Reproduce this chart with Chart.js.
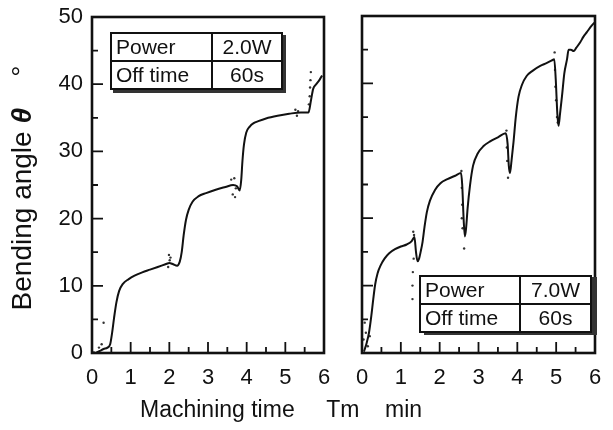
<!DOCTYPE html>
<html>
<head>
<meta charset="utf-8">
<script src="https://cdn.jsdelivr.net/npm/chart.js@4/dist/chart.umd.min.js"></script>
<style>
  body { margin: 0; background: #fff; }
  #wrap { position: relative; width: 613px; height: 430px; background: #fff; font-family: "Liberation Sans", Arial, sans-serif; color: #111; }
  canvas { position: absolute; top: 0; }
  .tbl { position: absolute; border-collapse: collapse; background: #fff; font-size: 21px; box-shadow: 3px 3px 0 #333; }
  .tbl td { border: 2px solid #111; height: 26px; padding: 0 4px; }
  .tbl td.v { text-align: center; }
  #ytitle { position: absolute; left: -128px; top: 172px; width: 300px; height: 32px; line-height: 32px;
            text-align: center; font-size: 28px; transform: rotate(-90deg); white-space: pre; }
  #xtitle { position: absolute; left: 140px; top: 396px; font-size: 23px; white-space: pre; }
</style>
</head>
<body>
<div id="wrap">
  <canvas id="left" width="335" height="400" style="left:0"></canvas>
  <canvas id="right" width="273" height="400" style="left:340px"></canvas>

  <table class="tbl" style="left:110px; top:32px; width:173px">
    <tr><td style="width:91px">Power</td><td class="v">2.0W</td></tr>
    <tr><td>Off time</td><td class="v">60s</td></tr>
  </table>
  <table class="tbl" style="left:419px; top:275px; width:173px; box-shadow: 5px 2px 0 #333">
    <tr><td style="width:90px">Power</td><td class="v">7.0W</td></tr>
    <tr><td>Off time</td><td class="v">60s</td></tr>
  </table>

  <div id="ytitle">Bending angle <b><i>θ</i></b>    °</div>
  <div id="xtitle">Machining time     Tm    min</div>
</div>

<script>
// 2.0W curve (time in min, angle in deg)
var t2W = [0.10, 0.20, 0.30, 0.40, 0.47, 0.52, 0.57, 0.63, 0.70, 0.80, 0.95, 1.10, 1.30, 1.50, 1.70, 1.90, 2.00, 2.10, 2.20,
           2.27, 2.32, 2.37, 2.43, 2.50, 2.60, 2.75, 2.95, 3.20, 3.45, 3.65, 3.75, 3.82, 3.86, 3.89, 3.93, 3.99, 4.08, 4.18,
           4.30, 4.50, 4.80, 5.10, 5.40, 5.60, 5.66, 5.72, 5.80, 5.88, 5.95];
var a2W = [0.0, 0.3, 0.6, 0.8, 1.3, 3.0, 5.2, 7.5, 9.2, 10.3, 11.0, 11.5, 12.0, 12.4, 12.8, 13.2, 13.4, 13.2, 13.0,
           13.6, 15.0, 17.5, 19.8, 21.3, 22.5, 23.3, 23.8, 24.3, 24.7, 25.0, 24.8, 24.2, 25.8, 28.5, 31.0, 32.8, 33.7, 34.2,
           34.5, 34.9, 35.3, 35.6, 35.8, 35.8, 37.5, 39.3, 40.0, 40.6, 41.3];
// scattered points around the 2.0W curve
var n2Wt = [0.05, 0.18, 0.25, 0.30, 1.97, 1.99, 2.01, 2.03, 3.60, 3.64, 3.68, 3.70, 3.72, 5.26, 5.30, 5.33, 5.61, 5.63, 5.64, 5.65, 5.66];
var n2Wv = [0.1, 0.8, 1.3, 4.5, 12.8, 14.6, 13.8, 14.2, 25.8, 23.6, 26.0, 23.2, 24.5, 36.2, 35.3, 36.0, 37.0, 38.2, 39.5, 40.6, 41.8];

// 7.0W curve
var t7W = [0.05, 0.12, 0.18, 0.24, 0.29, 0.34, 0.40, 0.48, 0.58, 0.70, 0.85, 1.00, 1.15, 1.28, 1.35, 1.39, 1.43, 1.47, 1.51,
           1.56, 1.61, 1.67, 1.75, 1.88, 2.02, 2.20, 2.40, 2.55, 2.58, 2.62, 2.65, 2.68, 2.72, 2.78, 2.86, 2.98, 3.13, 3.30,
           3.50, 3.70, 3.75, 3.78, 3.81, 3.85, 3.90, 3.96, 4.03, 4.12, 4.24, 4.40, 4.59, 4.75, 4.89, 4.95, 4.99, 5.03, 5.06,
           5.10, 5.15, 5.21, 5.28, 5.32, 5.38, 5.45, 5.52, 5.62, 5.70, 5.79, 5.92, 6.00];
var a7W = [0.2, 1.5, 3.0, 5.5, 8.0, 10.2, 11.8, 13.0, 14.0, 14.8, 15.4, 15.8, 16.1, 16.6, 17.2, 15.0, 13.6, 14.0, 15.0,
           16.5, 18.7, 20.9, 22.6, 24.2, 25.2, 25.8, 26.3, 26.7, 25.0, 19.5, 17.3, 18.5, 21.5, 24.8, 27.8, 29.6, 30.7, 31.4,
           32.0, 32.6, 31.0, 27.8, 26.7, 28.5, 31.2, 35.0, 38.0, 39.8, 41.1, 41.9, 42.6, 43.0, 43.4, 43.6, 40.5, 35.5, 33.7,
           35.5, 38.1, 41.5, 43.6, 45.0, 45.0, 44.8, 45.3, 46.1, 46.9, 47.6, 48.6, 49.1];
var n7Wt = [0.04, 0.07, 0.10, 0.15, 0.20, 1.32, 1.31, 1.30, 1.30, 1.33, 1.34, 2.56, 2.57, 2.58, 2.57, 2.59, 2.63, 3.72, 3.73, 3.74, 3.76,
            4.96, 4.97, 4.98, 5.00, 5.02, 5.04];
var n7Wv = [2.0, 4.5, 3.0, 1.0, 2.5, 18.0, 12.0, 10.0, 8.0, 14.0, 17.5, 27.0, 24.5, 22.0, 20.0, 18.5, 15.5, 33.0, 30.5, 28.5, 26.0,
            44.6, 42.0, 39.5, 37.5, 35.0, 34.2];

var xMarks = [0, 0.5, 1, 1.5, 2, 2.5, 3, 3.5, 4, 4.5, 5, 5.5, 6];
var yMarks = [0, 5, 10, 15, 20, 25, 30, 35, 40, 45, 50];

function pts(xs, ys) {
  return xs.map(function (x, i) { return { x: x, y: ys[i] }; });
}

// inward tick marks and the closed frame
var framePlugin = {
  id: 'frame',
  afterDatasetsDraw: function (chart) {
    var ctx = chart.ctx, a = chart.chartArea, x = chart.scales.x, y = chart.scales.y;
    ctx.save();
    ctx.strokeStyle = '#111';
    ctx.lineWidth = 1.8;
    ctx.beginPath();
    yMarks.forEach(function (v) {
      var p = y.getPixelForValue(v);
      var len = v % 10 === 0 ? 11 : 6;
      ctx.moveTo(a.left, p); ctx.lineTo(a.left + len, p);
    });
    xMarks.forEach(function (v) {
      var p = x.getPixelForValue(v);
      var len = v % 1 === 0 ? 11 : 6;
      ctx.moveTo(p, a.bottom); ctx.lineTo(p, a.bottom - len);
    });
    ctx.stroke();
    ctx.lineWidth = 2.6;
    ctx.strokeRect(a.left, a.top, a.right - a.left, a.bottom - a.top);
    ctx.restore();
  }
};

function makeChart(id, t, a, nt, nv, yWidth, rightPad, topPad, showY) {
  return new Chart(document.getElementById(id).getContext('2d'), {
    type: 'line',
    data: {
      datasets: [{
        data: pts(t, a),
        borderColor: '#111',
        borderWidth: 2,
        pointRadius: 0,
        cubicInterpolationMode: 'monotone'
      }, {
        data: pts(nt, nv),
        showLine: false,
        pointRadius: 1.2,
        pointBorderWidth: 0,
        pointBackgroundColor: '#333'
      }]
    },
    options: {
      responsive: false,
      animation: false,
      devicePixelRatio: 1,
      layout: { padding: { top: topPad, right: rightPad, left: 0, bottom: 0 } },
      plugins: { legend: { display: false }, tooltip: { enabled: false } },
      scales: {
        x: {
          type: 'linear', min: 0, max: 6,
          grid: { display: false, drawTicks: false },
          border: { display: false },
          ticks: { stepSize: 1, padding: 12, color: '#111', font: { family: 'Liberation Sans', size: 22 } },
          afterFit: function (s) { s.height = 47; s.paddingLeft = 0; s.paddingRight = 0; }
        },
        y: {
          min: 0, max: 50,
          grid: { display: false, drawTicks: false },
          border: { display: false },
          ticks: { display: showY, stepSize: 10, padding: 9, color: '#111', font: { family: 'Liberation Sans', size: 22 } },
          afterFit: function (s) { s.width = yWidth; s.paddingTop = 0; s.paddingBottom = 0; }
        }
      }
    },
    plugins: [framePlugin]
  });
}

makeChart('left', t2W, a2W, n2Wt, n2Wv, 92, 11, 17, true);
makeChart('right', t7W, a7W, n7Wt, n7Wv, 22, 18, 16, false);
</script>
</body>
</html>
